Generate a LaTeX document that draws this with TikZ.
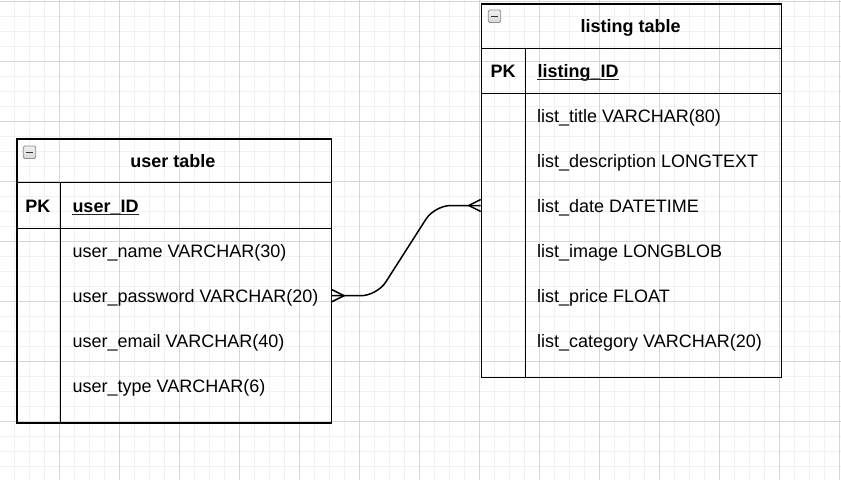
\documentclass[tikz,border=0pt]{standalone}
\usepackage{fontspec}
\setmainfont{Liberation Sans}
\usetikzlibrary{calc}
\definecolor{gridmajor}{HTML}{D6D6D6}
\definecolor{gridminor}{HTML}{F1F1F1}
\definecolor{iconborder}{HTML}{8E8E8E}
\begin{document}
\begin{tikzpicture}[x=1pt,y=-1pt,
  tbl/.style={draw=black,line width=1.5pt,anchor=north west,inner sep=0pt},
  sepline/.style={draw=black,line width=1.5pt},
  txt/.style={anchor=base west,inner sep=0pt,font=\fontsize{18}{22}\selectfont},
  btxt/.style={anchor=base,inner sep=0pt,font=\fontsize{18}{22}\selectfont\bfseries},
  bwtxt/.style={anchor=base west,inner sep=0pt,font=\fontsize{18}{22}\selectfont\bfseries},
  iconbox/.style={draw=iconborder,line width=0.8pt,rounded corners=1.5pt,minimum size=12.5pt,inner sep=0pt,top color=white!88!gray,bottom color=white!70!gray},
  edge/.style={draw=black,line width=1.5pt}
]
\useasboundingbox (0,0) rectangle (841,480);
\fill[white] (0,0) rectangle (841,480);
% grid
\foreach \x in {14,29,...,839} \draw[gridminor,line width=1pt] (\x,0) -- (\x,480);
\foreach \y in {1,16,...,480} \draw[gridminor,line width=1pt] (0,\y) -- (841,\y);
\foreach \x in {59,119,...,839} \draw[gridmajor,line width=1pt] (\x,0) -- (\x,480);
\foreach \y in {1,61,...,480} \draw[gridmajor,line width=1pt] (0,\y) -- (841,\y);

% ---------- user table ----------
\node[tbl,minimum width=314.5pt,minimum height=284pt] (user) at (16,138.3) {};
\draw[sepline] (16,182.3) -- (330.5,182.3);
\draw[sepline] (16,228.3) -- (330.5,228.3);
\draw[sepline] (60.7,182.3) -- (60.7,422.3);
\node[iconbox] (uicon) at (29.5,152.3) {};
\draw[line width=1.3pt,black!80] ([xshift=-3.8pt]uicon.center) -- ([xshift=3.8pt]uicon.center);
\node[btxt] (uhead) at (173,167.3) {user table};
\node[btxt] (upk) at (37.8,212.7) {PK};
\node[bwtxt] (uid) at (72.3,212.7) {user\_ID};
\draw[line width=1.3pt,black!85] ([yshift=-1.8pt]uid.base west) -- ([yshift=-1.8pt]uid.base east);
\node[txt] (u1) at (72.5,257.7) {user\_name VARCHAR(30)};
\node[txt] (u2) at (72.5,302.7) {user\_password VARCHAR(20)};
\node[txt] (u3) at (72.5,347.7) {user\_email VARCHAR(40)};
\node[txt] (u4) at (72.5,392.7) {user\_type VARCHAR(6)};

% ---------- listing table ----------
\node[tbl,minimum width=300pt,minimum height=373.4pt] (listing) at (480.7,3.3) {};
\draw[sepline] (480.7,48.3) -- (780.7,48.3);
\draw[sepline] (480.7,93.3) -- (780.7,93.3);
\draw[sepline] (525.7,48.3) -- (525.7,376.7);
\node[iconbox] (licon) at (494.5,16.3) {};
\draw[line width=1.3pt,black!80] ([xshift=-3.8pt]licon.center) -- ([xshift=3.8pt]licon.center);
\node[btxt] (lhead) at (630.7,32.3) {listing table};
\node[btxt] (lpk) at (503.2,77.7) {PK};
\node[bwtxt] (lid) at (537.3,77.7) {listing\_ID};
\draw[line width=1.3pt,black!85] ([yshift=-1.8pt]lid.base west) -- ([yshift=-1.8pt]lid.base east);
\node[txt] (l1) at (537,122.7) {list\_title VARCHAR(80)};
\node[txt] (l2) at (537,167.7) {list\_description LONGTEXT};
\node[txt] (l3) at (537,212.7) {list\_date DATETIME};
\node[txt] (l4) at (537,257.7) {list\_image LONGBLOB};
\node[txt] (l5) at (537,302.7) {list\_price FLOAT};
\node[txt] (l6) at (537,347.7) {list\_category VARCHAR(20)};

% ---------- relation ----------
\coordinate (rowpass) at (173,295.7);
\coordinate (rowdate) at (630,205.5);
\coordinate (ua) at (user.east |- rowpass);
\coordinate (lb) at (listing.west |- rowdate);
\draw[edge,rounded corners=16pt] (ua) -- ++(45,0) -- ($(lb)+(-46,0)$) -- (lb);
\draw[edge] ([yshift=6pt]ua) -- ([xshift=12pt]ua) -- ([yshift=-6pt]ua);
\draw[edge] ([yshift=6pt]lb) -- ([xshift=-12pt]lb) -- ([yshift=-6pt]lb);
\end{tikzpicture}
\end{document}
